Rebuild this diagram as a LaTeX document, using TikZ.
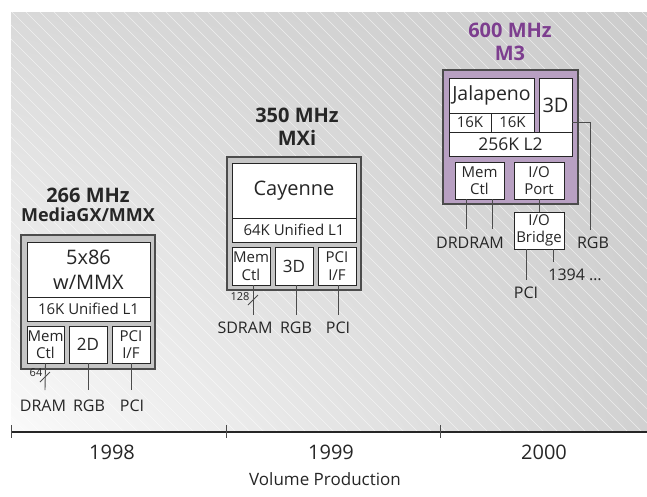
\documentclass[tikz,border=0pt]{standalone}
\usepackage{fontspec}
\setmainfont{Open Sans}
\usetikzlibrary{calc,shadings}
\definecolor{plum}{RGB}{125,62,143}
\definecolor{mauve}{RGB}{184,160,194}
\definecolor{chipgray}{RGB}{198,198,198}
\newcommand{\pxsize}[2]{\fontsize{#1}{#2}\selectfont}

\begin{document}
\begin{tikzpicture}[x=1pt,y=-1pt,
    chip/.style={draw=black!70,line width=1.4pt,fill=chipgray,inner sep=0pt},
    unit/.style={draw=black!85,line width=0.9pt,fill=white,inner sep=0pt,align=center,text=black!85},
    small/.style={unit,minimum width=38pt,minimum height=37pt,font=\pxsize{15}{17.5}},
    title/.style={font=\bfseries\pxsize{20}{22},text=black!85},
    pin/.style={font=\pxsize{16}{18},text=black!85,inner sep=0pt},
    wire/.style={draw=black!70,line width=0.9pt}]
  \useasboundingbox (0,0) rectangle (647,496);
  \shade[lower left=black!2,upper left=black!15,upper right=black!20,lower right=black!18] (11,12) rectangle (647,432);
  \begin{scope}
    \clip (11,12) rectangle (647,432);
    \foreach \i in {-408,-394,...,647} \draw[white,line width=0.6pt,opacity=0.6] (\i,12) -- ++(420,420);
  \end{scope}
  % 1998
  \node[title] (t98a) at (88,195) {266 MHz};
  \node[title,font=\bfseries\pxsize{18}{20}] (t98b) at (88,215) {MediaGX/MMX};
  \node[chip,minimum width=134pt,minimum height=134pt] (c98) at (88,302) {};
  \node[unit,minimum width=123pt,minimum height=55pt,font=\pxsize{20}{25}] (cpu98) at (88.5,269.5) {5x86\\w/MMX};
  \node[unit,minimum width=123pt,minimum height=24pt,font=\pxsize{15}{17}] (l198) at (88.5,309) {16K Unified L1};
  \node[small,minimum width=37pt] (mem98) at (45.5,344.5) {Mem\\Ctl};
  \node[small,font=\pxsize{17}{19}] (gfx98) at (88,344.5) {2D};
  \node[small] (pci98) at (131,344.5) {PCI\\I/F};
  \coordinate (w98a) at (45,390); \coordinate (w98b) at (88,390); \coordinate (w98c) at (131,390);
  \draw[wire] (mem98.south) -- (w98a); \draw[wire] (gfx98.south) -- (w98b); \draw[wire] (pci98.south) -- (w98c);
  \coordinate (s98) at (45,377);
  \draw[wire] ($(s98)+(-5,5)$) -- ($(s98)+(5,-5)$);
  \node[pin,font=\pxsize{11}{12}] (n98) at (36,373) {64};
  \node[pin] (dram98) at (43,406) {DRAM};
  \node[pin] (rgb98) at (89,406) {RGB};
  \node[pin] (pcil98) at (132,406) {PCI};
  % 1999
  \node[title] (t99a) at (297,115) {350 MHz};
  \node[title] (t99b) at (297,138) {MXi};
  \node[chip,minimum width=134pt,minimum height=133pt] (c99) at (294,223.5) {};
  \node[unit,minimum width=124pt,minimum height=55pt,font=\pxsize{20}{22}] (cpu99) at (294,190.5) {Cayenne};
  \node[unit,minimum width=124pt,minimum height=24pt,font=\pxsize{15}{17}] (l199) at (294,230) {64K Unified L1};
  \node[small,minimum height=38pt] (mem99) at (251,266) {Mem\\Ctl};
  \node[small,minimum height=38pt,font=\pxsize{17}{19}] (gfx99) at (294,266) {3D};
  \node[small,minimum height=38pt] (pci99) at (337,266) {PCI\\I/F};
  \coordinate (w99a) at (253,315); \coordinate (w99b) at (296,315); \coordinate (w99c) at (338,315);
  \draw[wire] (mem99.south -| w99a) -- (w99a); \draw[wire] (gfx99.south -| w99b) -- (w99b); \draw[wire] (pci99.south -| w99c) -- (w99c);
  \coordinate (s99) at (253,300);
  \draw[wire] ($(s99)+(-5,5)$) -- ($(s99)+(5,-5)$);
  \node[pin,font=\pxsize{11}{12}] (n99) at (240,297) {128};
  \node[pin] (dram99) at (245,328) {SDRAM};
  \node[pin] (rgb99) at (296,328) {RGB};
  \node[pin] (pcil99) at (338,328) {PCI};
  % 2000
  \node[title,text=plum] (t00a) at (510,30) {600 MHz};
  \node[title,text=plum] (t00b) at (510,53) {M3};
  \node[chip,fill=mauve,minimum width=135pt,minimum height=134pt] (c00) at (510.5,137) {};
  \node[unit,minimum width=85pt,minimum height=35pt,font=\pxsize{19.5}{21}] (jal) at (491.5,95.5) {Jalapeno};
  \node[unit,minimum width=42pt,minimum height=19pt,font=\pxsize{15}{16}] (ic00) at (470,122.5) {16K};
  \node[unit,minimum width=43pt,minimum height=19pt,font=\pxsize{15}{16}] (dc00) at (512.5,122.5) {16K};
  \node[unit,minimum width=123pt,minimum height=24pt,font=\pxsize{17.5}{19}] (l200) at (510.5,144) {256K L2};
  \node[unit,minimum width=33pt,minimum height=54pt,font=\pxsize{20}{22}] (gfx00) at (555.5,105) {3D};
  \node[unit,minimum width=49pt,minimum height=37pt,font=\pxsize{15}{17}] (mem00) at (479.5,180.5) {Mem\\Ctl};
  \node[unit,minimum width=50pt,minimum height=37pt,font=\pxsize{15}{17}] (iop) at (539,180.5) {I/O\\Port};
  \node[unit,minimum width=50pt,minimum height=37pt,font=\pxsize{15}{17}] (brg) at (539,230.5) {I/O\\Bridge};
  \coordinate (w00a) at (466,229); \coordinate (w00b) at (492,229);
  \coordinate (k00) at (590,122); \coordinate (w00c) at (590,230);
  \coordinate (w00d) at (526,280); \coordinate (w00e) at (553,262);
  \draw[wire] (mem00.south -| w00a) -- (w00a); \draw[wire] (mem00.south -| w00b) -- (w00b);
  \draw[wire] (gfx00.east |- k00) -- (k00) -- (w00c);
  \draw[wire] (iop.south) -- (brg.north);
  \draw[wire] (brg.south -| w00d) -- (w00d); \draw[wire] (brg.south -| w00e) -- (w00e);
  \node[pin] (dram00) at (470,243) {DRDRAM};
  \node[pin] (rgb00) at (593,243) {RGB};
  \node[pin] (pcil00) at (526,293) {PCI};
  \node[pin] (fw00) at (575,275) {1394 \dots};
  % timeline
  \draw[black!85,line width=2.6pt] (11,432) -- (647,432);
  \foreach \x in {11.5,226,440} \draw[black!70,line width=0.8pt] (\x,425) -- (\x,438);
  \node[font=\pxsize{20}{22},text=black!85] (y98) at (112,452) {1998};
  \node[font=\pxsize{20}{22},text=black!85] (y99) at (331,452) {1999};
  \node[font=\pxsize{20}{22},text=black!85] (y00) at (544,452) {2000};
  \node[font=\pxsize{17}{19},text=black!85] (vp) at (325,479) {Volume Production};
\end{tikzpicture}
\end{document}
